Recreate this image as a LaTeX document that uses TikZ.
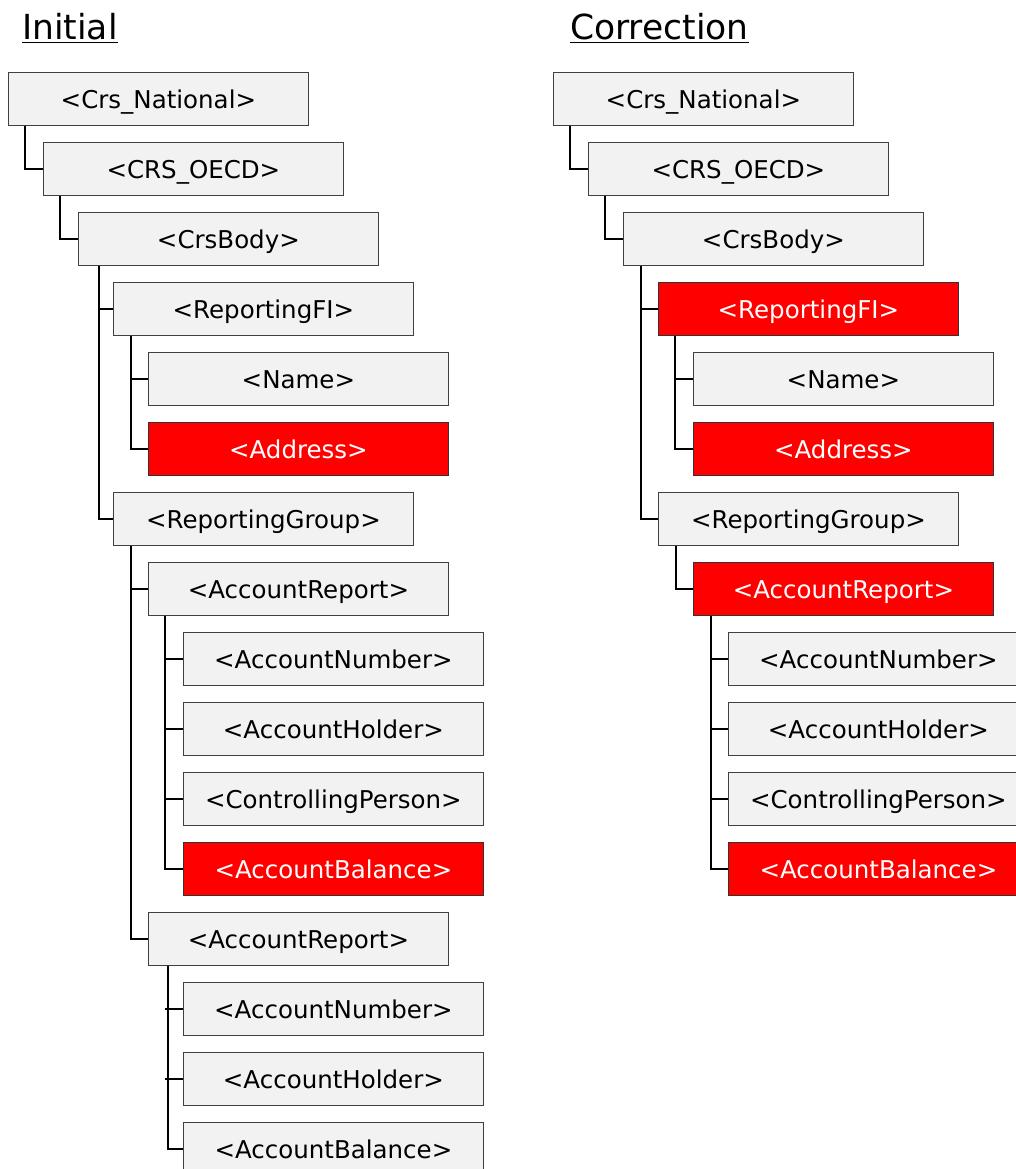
\documentclass[tikz,border=0pt]{standalone}
\usepackage{fontspec}
\setmainfont{DejaVu Sans}
\begin{document}
\begin{tikzpicture}[x=1pt,y=-1pt,
  box/.style={draw=black!75,line width=0.8pt,fill=boxgray,minimum width=300pt,minimum height=53pt,
    inner sep=0pt,text height=23pt,text depth=4pt,anchor=north west,font=\fontsize{24.5pt}{28pt}\selectfont,text=black},
  hot/.style={box,fill=red,text=white,draw=black!80},
  conn/.style={line width=1.6pt,black},
  title/.style={anchor=base west,inner sep=0pt,font=\fontsize{34.5pt}{40pt}\selectfont}]
\definecolor{boxgray}{HTML}{F2F2F2}
\useasboundingbox (0,0) rectangle (1016,1169);
% titles
\node[title] (t1) at (22,40) {\underline{Initial}};
\node[title] (t2) at (570,40) {\underline{Correction}};
% ---------------- Initial ----------------
\node[box] (a0) at (8,72) {<Crs\_National>};
\node[box] (a1) at (43,142) {<CRS\_OECD>};
\node[box] (a2) at (78,212) {<CrsBody>};
\node[box] (a3) at (113,282) {<ReportingFI>};
\node[box] (a4) at (148,352) {<Name>};
\node[hot] (a5) at (148,422) {<Address>};
\node[box] (a6) at (113,492) {<ReportingGroup>};
\node[box] (a7) at (148,562) {<AccountReport>};
\node[box] (a8) at (183,632) {<AccountNumber>};
\node[box] (a9) at (183,702) {<AccountHolder>};
\node[box] (a10) at (183,772) {<ControllingPerson>};
\node[hot] (a11) at (183,842) {<AccountBalance>};
\node[box] (a12) at (148,912) {<AccountReport>};
\node[box] (a13) at (183,982) {<AccountNumber>};
\node[box] (a14) at (183,1052) {<AccountHolder>};
\node[box] (a15) at (183,1122) {<AccountBalance>};
\draw[conn] ([xshift=17pt]a0.south west) |- (a1.west);
\draw[conn] ([xshift=17pt]a1.south west) |- (a2.west);
\draw[conn] ([xshift=21pt]a2.south west) |- (a3.west);
\draw[conn] ([xshift=21pt]a2.south west) |- (a6.west);
\draw[conn] ([xshift=18pt]a3.south west) |- (a4.west);
\draw[conn] ([xshift=18pt]a3.south west) |- (a5.west);
\draw[conn] ([xshift=18pt]a6.south west) |- (a7.west);
\draw[conn] ([xshift=18pt]a6.south west) |- (a12.west);
\draw[conn] ([xshift=17pt]a7.south west) |- (a8.west);
\draw[conn] ([xshift=17pt]a7.south west) |- (a9.west);
\draw[conn] ([xshift=17pt]a7.south west) |- (a10.west);
\draw[conn] ([xshift=17pt]a7.south west) |- (a11.west);
\draw[conn] ([xshift=20pt]a12.south west) |- (a15.west);
\draw[conn] (a13.west -| a12.south west) ++(17pt,0) -- (a13.west);
\draw[conn] (a14.west -| a12.south west) ++(17pt,0) -- (a14.west);
% ---------------- Correction ----------------
\node[box] (b0) at (553,72) {<Crs\_National>};
\node[box] (b1) at (588,142) {<CRS\_OECD>};
\node[box] (b2) at (623,212) {<CrsBody>};
\node[hot] (b3) at (658,282) {<ReportingFI>};
\node[box] (b4) at (693,352) {<Name>};
\node[hot] (b5) at (693,422) {<Address>};
\node[box] (b6) at (658,492) {<ReportingGroup>};
\node[hot] (b7) at (693,562) {<AccountReport>};
\node[box] (b8) at (728,632) {<AccountNumber>};
\node[box] (b9) at (728,702) {<AccountHolder>};
\node[box] (b10) at (728,772) {<ControllingPerson>};
\node[hot] (b11) at (728,842) {<AccountBalance>};
\draw[conn] ([xshift=17pt]b0.south west) |- (b1.west);
\draw[conn] ([xshift=17pt]b1.south west) |- (b2.west);
\draw[conn] ([xshift=18pt]b2.south west) |- (b3.west);
\draw[conn] ([xshift=18pt]b2.south west) |- (b6.west);
\draw[conn] ([xshift=17pt]b3.south west) |- (b4.west);
\draw[conn] ([xshift=17pt]b3.south west) |- (b5.west);
\draw[conn] ([xshift=18pt]b6.south west) |- (b7.west);
\draw[conn] ([xshift=18pt]b7.south west) |- (b8.west);
\draw[conn] ([xshift=18pt]b7.south west) |- (b9.west);
\draw[conn] ([xshift=18pt]b7.south west) |- (b10.west);
\draw[conn] ([xshift=18pt]b7.south west) |- (b11.west);
\end{tikzpicture}
\end{document}
